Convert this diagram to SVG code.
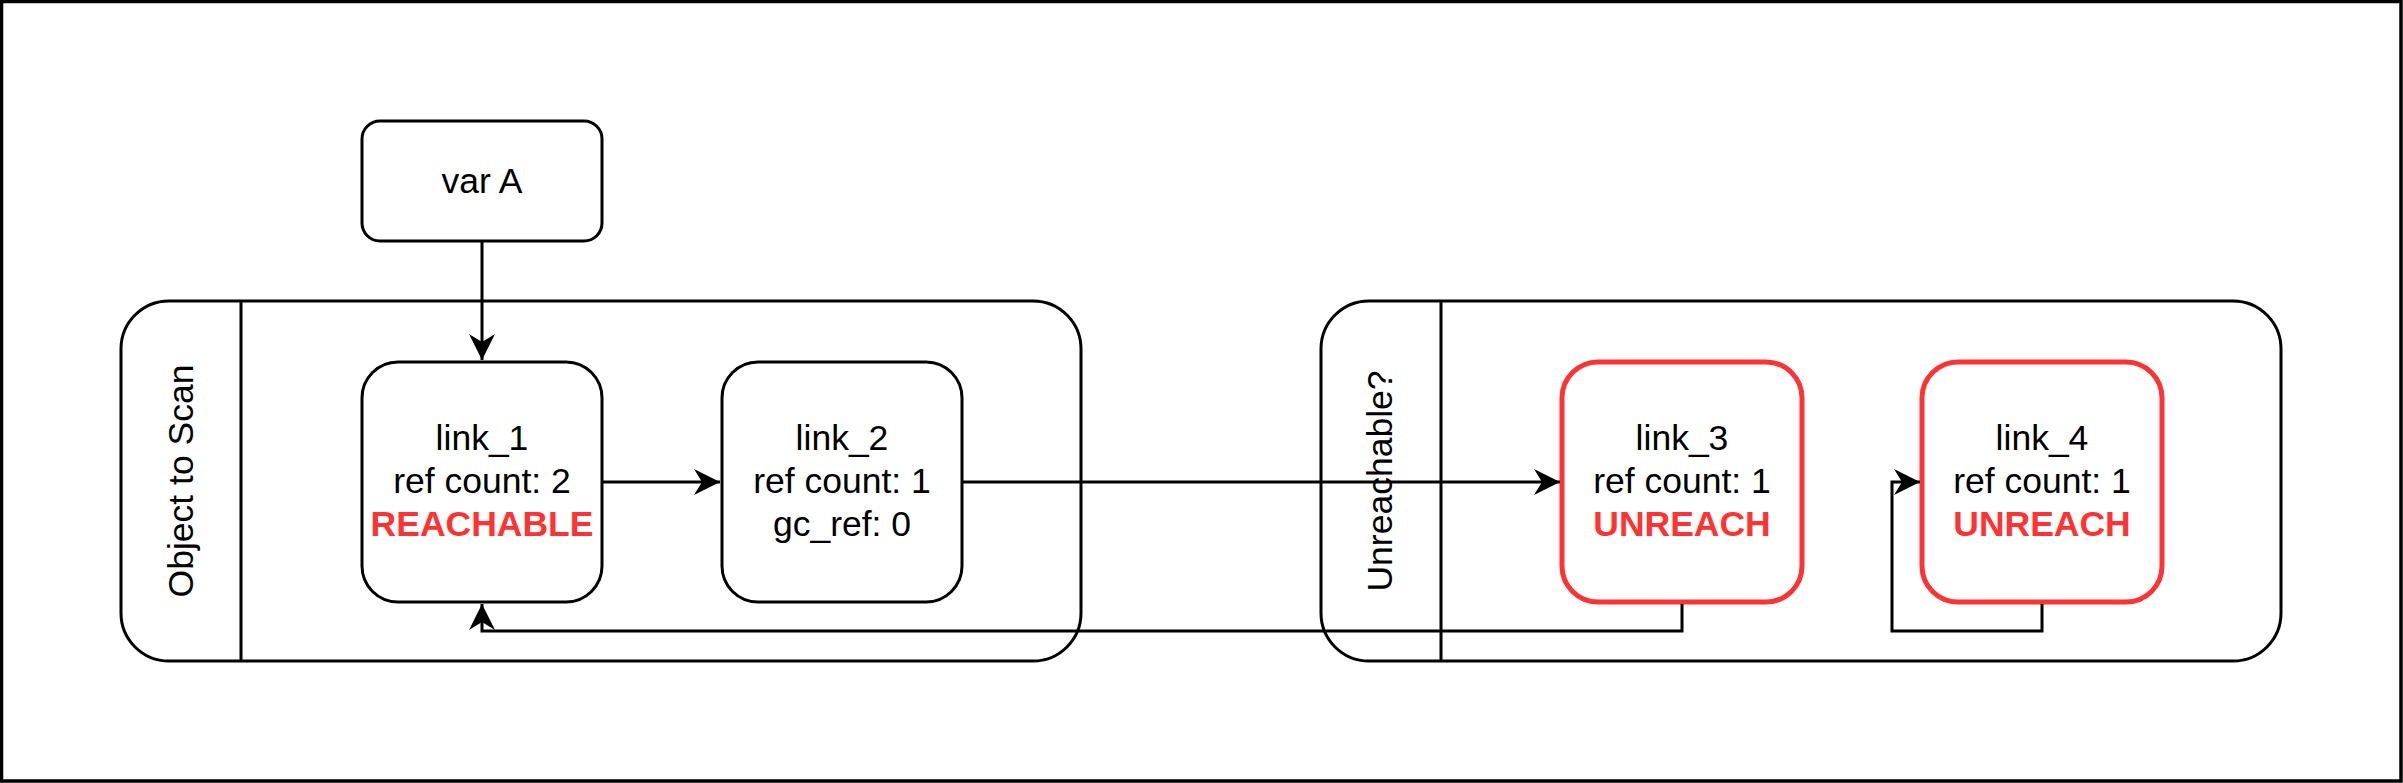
<svg xmlns="http://www.w3.org/2000/svg" width="2403" height="783" viewBox="0 0 2403 783">
  <style>
    .box { fill: #ffffff; stroke: #000000; stroke-width: 3; }
    .red { fill: #ffffff; stroke: #ff3333; stroke-width: 5; }
    .lane { fill: #ffffff; stroke: #000000; stroke-width: 3; }
    .div { stroke: #000000; stroke-width: 3; }
    .t { font-family: "Liberation Sans", Arial, Helvetica, sans-serif; font-size: 35.5px; fill: #000000; text-anchor: middle; }
    .rt { font-family: "Liberation Sans", Arial, Helvetica, sans-serif; font-size: 35.5px; fill: #ff3333; font-weight: bold; text-anchor: middle; }
    .edge { fill: none; stroke: #000000; stroke-width: 3; marker-end: url(#arrow); }
  </style>
  <defs>
    <marker id="arrow" markerUnits="userSpaceOnUse" markerWidth="30" markerHeight="30" viewBox="-28 -15 30 30" refX="0" refY="0" orient="auto">
      <path d="M0,0 L-26,-13 L-18,0 L-26,13 Z" fill="#000000" stroke="none"/>
    </marker>
  </defs>
  <rect x="1.5" y="1.5" width="2399.5" height="779.5" fill="#ffffff" stroke="#000000" stroke-width="3.5"/>

  <g id="lane1">
    <rect class="lane" x="121" y="301" width="960" height="360" rx="48" ry="48"/>
    <line class="div" x1="241" y1="301" x2="241" y2="661"/>
    <text class="t" transform="translate(193,481) rotate(-90)" x="0" y="0">Object to Scan</text>
  </g>
  <g id="lane2">
    <rect class="lane" x="1321" y="301" width="960" height="360" rx="48" ry="48"/>
    <line class="div" x1="1441" y1="301" x2="1441" y2="661"/>
    <text class="t" transform="translate(1392,481) rotate(-90)" x="0" y="0">Unreachable?</text>
  </g>

  <g id="varA">
    <rect class="box" x="362" y="121" width="240" height="120" rx="18" ry="18"/>
    <text class="t" x="482" y="193">var A</text>
  </g>
  <g id="link1">
    <rect class="box" x="362" y="362" width="240" height="240" rx="36" ry="36"/>
    <text class="t" x="482" y="450">link_1</text>
    <text class="t" x="482" y="493">ref count: 2</text>
    <text class="rt" x="482" y="536">REACHABLE</text>
  </g>
  <g id="link2">
    <rect class="box" x="722" y="362" width="240" height="240" rx="36" ry="36"/>
    <text class="t" x="842" y="450">link_2</text>
    <text class="t" x="842" y="493">ref count: 1</text>
    <text class="t" x="842" y="536">gc_ref: 0</text>
  </g>
  <g id="link3">
    <rect class="red" x="1562" y="362" width="240" height="240" rx="36" ry="36"/>
    <text class="t" x="1682" y="450">link_3</text>
    <text class="t" x="1682" y="493">ref count: 1</text>
    <text class="rt" x="1682" y="536">UNREACH</text>
  </g>
  <g id="link4">
    <rect class="red" x="1922" y="362" width="240" height="240" rx="36" ry="36"/>
    <text class="t" x="2042" y="450">link_4</text>
    <text class="t" x="2042" y="493">ref count: 1</text>
    <text class="rt" x="2042" y="536">UNREACH</text>
  </g>

  <g id="connectors">
    <path class="edge" d="M482,241 L482,360"/>
    <path class="edge" d="M602,482 L720,482"/>
    <path class="edge" d="M962,482 L1560,482"/>
    <path class="edge" d="M1682,604 L1682,631 L482,631 L482,604"/>
    <path class="edge" d="M2042,604 L2042,631 L1892,631 L1892,482 L1920,482"/>
  </g>
</svg>
